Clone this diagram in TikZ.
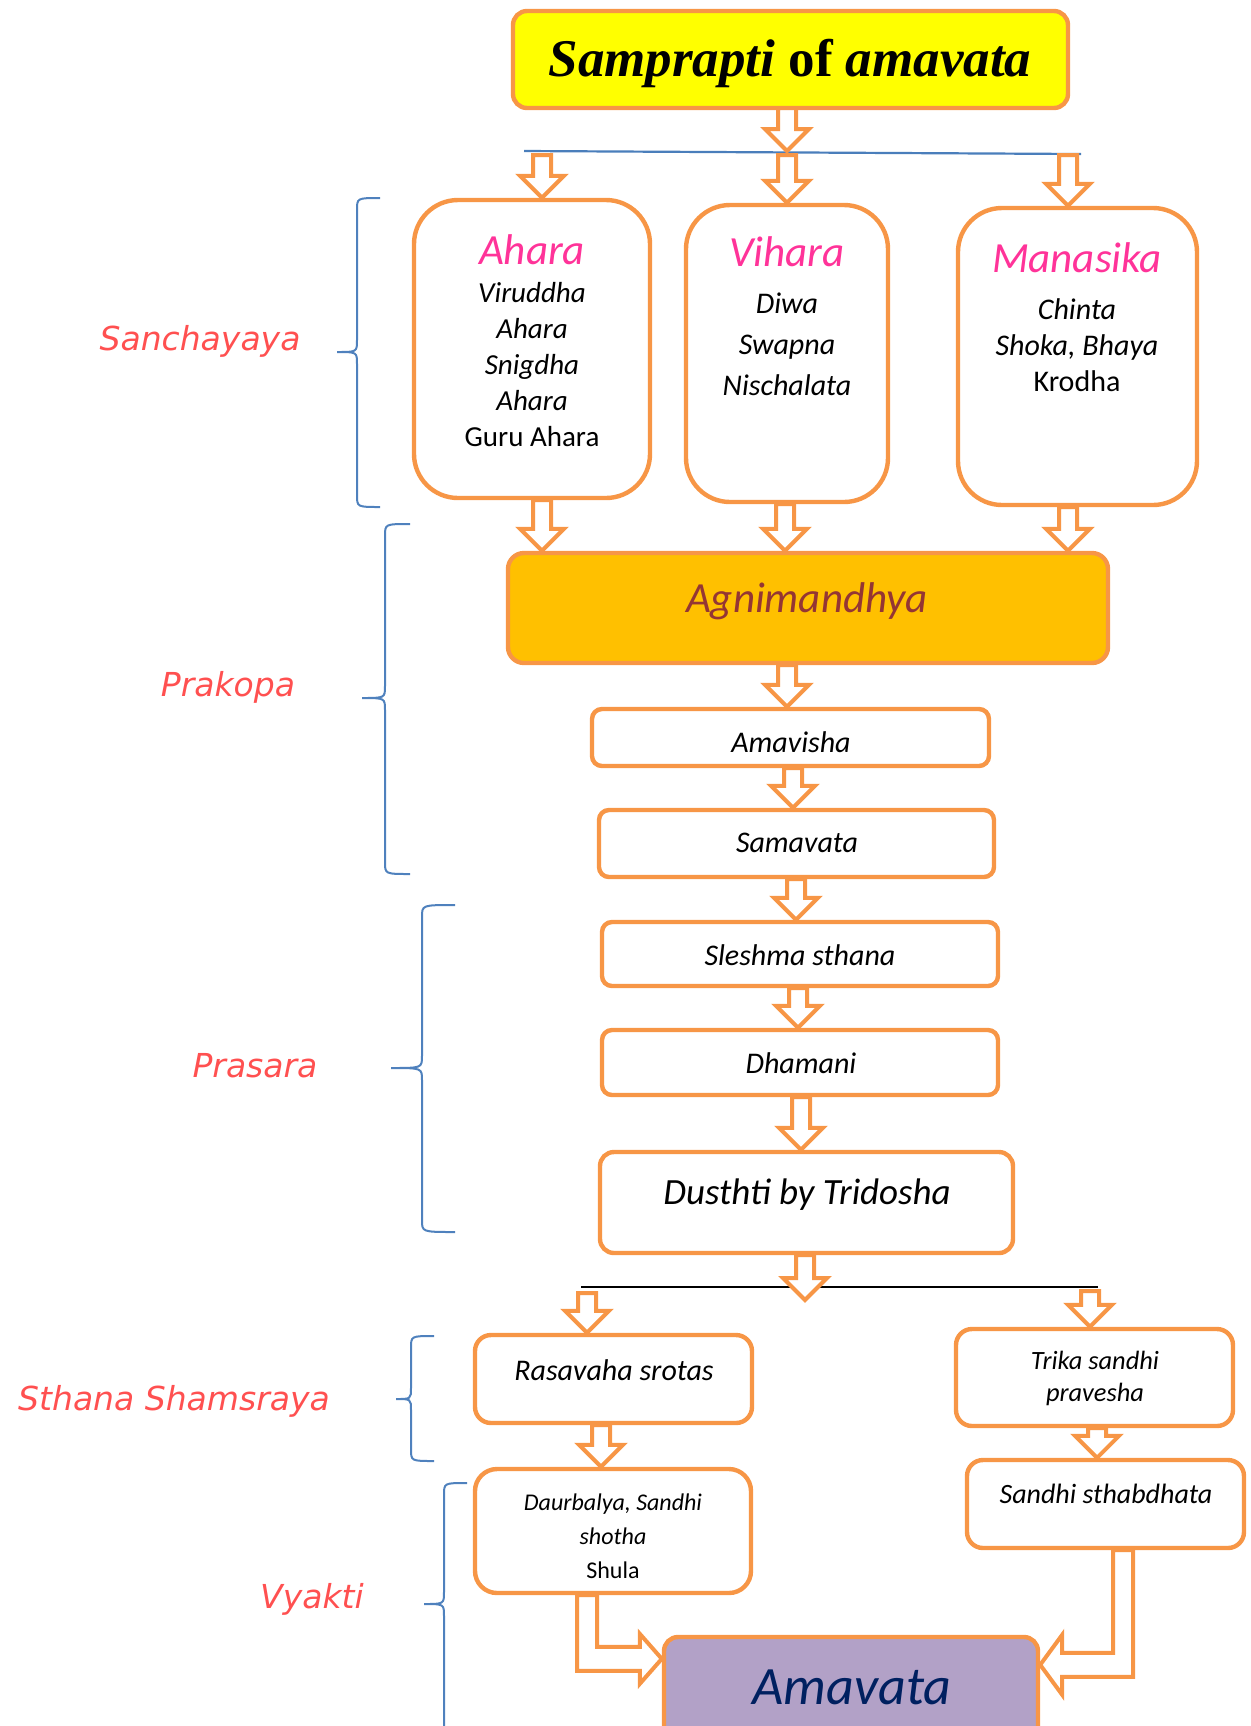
\documentclass[tikz,border=0pt]{standalone}
\usepackage{fontspec}
\setmainfont{Carlito}
\newfontfamily\titlefont{Liberation Serif}
\newfontfamily\sidefont{DejaVu Sans}
\usetikzlibrary{calc,fit}
\definecolor{ora}{HTML}{F79646}
\definecolor{yel}{HTML}{FFFF00}
\definecolor{agnifill}{HTML}{FFC000}
\definecolor{agnitext}{HTML}{943634}
\definecolor{amafill}{HTML}{B2A1C7}
\definecolor{amatext}{HTML}{002060}
\definecolor{pinkh}{HTML}{FF3399}
\definecolor{sidered}{HTML}{FF5050}
\definecolor{braceblue}{HTML}{4F81BD}
\definecolor{lineblue}{HTML}{4A7EBB}
\newcommand\fsz[2]{\fontsize{#1}{#2}\selectfont}
\tikzset{
  box/.style={draw=ora, line width=2.2pt, inner sep=0pt, fill=white},
  txt/.style={inner sep=0pt, align=center},
  side/.style={inner sep=0pt, text=sidered, font=\sidefont\itshape\fsz{16.5pt}{20pt}},
  brace/.style={draw=braceblue, line width=1pt},
  darr/.style={draw=ora, line width=2pt, fill=white, line join=miter,
    to path={let \p1=(\tikztostart), \p2=(\tikztotarget) in
      (\x1-4.5pt,\y1) -- (\x1-4.5pt,\y2+11pt) -- (\x1-11pt,\y2+11pt) -- (\x1,\y2)
      -- (\x1+11pt,\y2+11pt) -- (\x1+4.5pt,\y2+11pt) -- (\x1+4.5pt,\y1) -- cycle}},
  elbR/.style={draw=ora, line width=2pt, fill=white, line join=miter,
    to path={let \p1=(\tikztostart), \p2=(\tikztotarget) in
      (\x1-5pt,\y1) -- (\x1-5pt,\y2-6pt) -- (\x2-11pt,\y2-6pt) -- (\x2-11pt,\y2-12.5pt)
      -- (\x2,\y2) -- (\x2-11pt,\y2+12.5pt) -- (\x2-11pt,\y2+6pt) -- (\x1+5pt,\y2+6pt)
      -- (\x1+5pt,\y1) -- cycle}},
  elbL/.style={draw=ora, line width=2pt, fill=white, line join=miter,
    to path={let \p1=(\tikztostart), \p2=(\tikztotarget) in
      (\x1+5pt,\y1) -- (\x1+5pt,\y2-6pt) -- (\x2+11pt,\y2-6pt) -- (\x2+11pt,\y2-15pt)
      -- (\x2,\y2) -- (\x2+11pt,\y2+15pt) -- (\x2+11pt,\y2+6pt) -- (\x1-5pt,\y2+6pt)
      -- (\x1-5pt,\y1) -- cycle}},
}
\begin{document}
\begin{tikzpicture}[x=0.5pt,y=-0.5pt]
\useasboundingbox (0,0) rectangle (1251,1726);

% ---------- boxes ----------
\node[box, fill=yel, rounded corners=7pt, fit={(513,11) (1068,108)}] (title) {};
\node[box, rounded corners=22pt, fit={(414,200) (650,498)}] (ahara) {};
\node[box, rounded corners=22pt, fit={(686,205) (888,502)}] (vihara) {};
\node[box, rounded corners=22pt, fit={(958,208) (1197,505)}] (manas) {};
\node[box, fill=agnifill, rounded corners=8pt, fit={(508,553) (1108,663)}] (agni) {};
\node[box, rounded corners=5pt, fit={(592,709) (989,766)}] (amavisha) {};
\node[box, rounded corners=5pt, fit={(599,810) (994,877)}] (samavata) {};
\node[box, rounded corners=5pt, fit={(602,922) (998,986)}] (sleshma) {};
\node[box, rounded corners=5pt, fit={(602,1030) (998,1095)}] (dhamani) {};
\node[box, rounded corners=7pt, fit={(600,1152) (1013,1253)}] (dusthti) {};
\node[box, rounded corners=8pt, fit={(475,1335) (752,1423)}] (rasa) {};
\node[box, rounded corners=8pt, fit={(956,1329) (1233,1426)}] (trika) {};
\node[box, rounded corners=11pt, fit={(475,1469) (751,1593)}] (daur) {};
\node[box, rounded corners=8pt, fit={(967,1460) (1244,1548)}] (sandhi) {};
\node[box, fill=amafill, rounded corners=7pt, fit={(664,1637) (1038,1760)}] (amavata) {};

% ---------- texts ----------
\node[txt, font=\titlefont\bfseries\fsz{26.5pt}{30pt}] (titleT) at (790,63)
  {\itshape Samprapti \upshape of \itshape amavata};
\node[txt, text=pinkh, font=\itshape\fsz{21.5pt}{26pt}] (aharaH) at (532,250) {Ahara};
\node[txt, font=\itshape\fsz{14.5pt}{18pt}] (aharaT) at (532,365)
  {Viruddha\\Ahara\\Snigdha\\Ahara\\\upshape Guru Ahara};
\node[txt, text=pinkh, font=\itshape\fsz{21.5pt}{26pt}] (viharaH) at (787,252) {Vihara};
\node[txt, font=\itshape\fsz{15pt}{20.5pt}] (viharaT) at (787,344)
  {Diwa\\Swapna\\Nischalata};
\node[txt, text=pinkh, font=\itshape\fsz{21.5pt}{26pt}] (manasH) at (1077,258) {Manasika};
\node[txt, font=\itshape\fsz{15pt}{18pt}] (manasT) at (1077,345)
  {Chinta\\Shoka, Bhaya\\\upshape Krodha};
\node[txt, text=agnitext, font=\itshape\fsz{21.5pt}{26pt}] (agniT) at (807,601) {Agnimandhya};
\node[txt, font=\itshape\fsz{15pt}{18pt}] (amavishaT) at (791,742) {Amavisha};
\node[txt, font=\itshape\fsz{15pt}{18pt}] (samavataT) at (797,843) {Samavata};
\node[txt, font=\itshape\fsz{15pt}{18pt}] (sleshmaT) at (800,955) {Sleshma sthana};
\node[txt, font=\itshape\fsz{15pt}{18pt}] (dhamaniT) at (801,1063) {Dhamani};
\node[txt, font=\itshape\fsz{18.5pt}{22pt}] (dusthtiT) at (807,1195) {Dusthti by Tridosha};
\node[txt, font=\itshape\fsz{15pt}{18pt}] (rasaT) at (614,1370) {Rasavaha srotas};
\node[txt, font=\itshape\fsz{13.2pt}{16pt}] (trikaT) at (1095,1378) {Trika sandhi\\pravesha};
\node[txt, font=\itshape\fsz{12pt}{17pt}] (daurT) at (613,1536)
  {Daurbalya, Sandhi\\shotha\\\upshape Shula};
\node[txt, font=\itshape\fsz{14pt}{17pt}] (sandhiT) at (1106,1494) {Sandhi sthabdhata};
\node[txt, text=amatext, font=\itshape\fsz{27pt}{32pt}] (amavataT) at (852,1687) {Amavata};

% ---------- side labels ----------
\node[side] (l1) at (200,341) {Sanchayaya};
\node[side] (l2) at (228,687) {Prakopa};
\node[side] (l3) at (255,1066) {Prasara};
\node[side] (l4) at (174,1401) {Sthana Shamsraya};
\node[side] (l5) at (312,1599) {Vyakti};

% ---------- braces ----------
\draw[brace] (380,198) .. controls (357,198) .. (357,210) -- (357,340)
  .. controls (357,352) .. (337,352) .. controls (357,352) .. (357,364) -- (357,495)
  .. controls (357,507) .. (380,507);
\draw[brace] (410,524) .. controls (385,524) .. (385,536) -- (385,686)
  .. controls (385,698) .. (362,698) .. controls (385,698) .. (385,710) -- (385,862)
  .. controls (385,874) .. (410,874);
\draw[brace] (455,905) .. controls (422,905) .. (422,917) -- (422,1056)
  .. controls (422,1068) .. (391,1068) .. controls (422,1068) .. (422,1080) -- (422,1220)
  .. controls (422,1232) .. (455,1232);
\draw[brace] (434,1336) .. controls (411,1336) .. (411,1348) -- (411,1388)
  .. controls (411,1399) .. (396,1399) .. controls (411,1399) .. (411,1410) -- (411,1449)
  .. controls (411,1461) .. (434,1461);
\draw[brace] (467,1483) .. controls (444,1483) .. (444,1495) -- (444,1592)
  .. controls (444,1604) .. (424,1604) .. controls (444,1604) .. (444,1616) -- (444,1740);

% ---------- lines ----------
\coordinate (bl1) at (524,151);
\coordinate (bl2) at (1081,154);
\draw[lineblue, line width=1.1pt] (bl1) -- (bl2);
\coordinate (kl1) at (581,1287);
\coordinate (kl2) at (1098,1287);
\draw[black, line width=1.1pt] (kl1) -- (kl2);

% ---------- arrows ----------
\coordinate (t1s) at (787,108);
\coordinate (t1e) at (787,151);
\path[darr] (t1s) to (t1e);
\coordinate (a1s) at (542,155);
\coordinate (a2s) at (787,155);
\coordinate (a3s) at (1068,155);
\path[darr] (a1s) to (ahara.north);
\path[darr] (a2s) to (vihara.north);
\path[darr] (a3s) to (manas.north);
\path[darr] (ahara.south -| 542,0) to (agni.north);
\path[darr] (vihara.south -| 785,0) to (agni.north);
\path[darr] (manas.south -| 1068,0) to (agni.north);
\path[darr] (agni.south -| 787,0) to (amavisha.north);
\path[darr] (amavisha.south -| 793,0) to (samavata.north);
\path[darr] (samavata.south -| 796,0) to (sleshma.north);
\path[darr] (sleshma.south -| 798,0) to (dhamani.north);
\path[darr] (dhamani.south -| 801,0) to (dusthti.north);
\coordinate (c6e) at (805,1300);
\path[darr] (dusthti.south -| 805,0) to (c6e);
\coordinate (d1s) at (587,1293);
\coordinate (d2s) at (1090,1291);
\path[darr] (d1s) to (rasa.north);
\path[darr] (d2s) to (trika.north);
\path[darr] (rasa.south -| 601,0) to (daur.north);
\path[darr] (trika.south -| 1097,0) to (sandhi.north);
\path[elbR] (daur.south -| 587,0) to ($(amavata.north west)+(0,24)$);
\path[elbL] (sandhi.south -| 1123,0) to ($(amavata.north east)+(0,30)$);
\end{tikzpicture}
\end{document}
